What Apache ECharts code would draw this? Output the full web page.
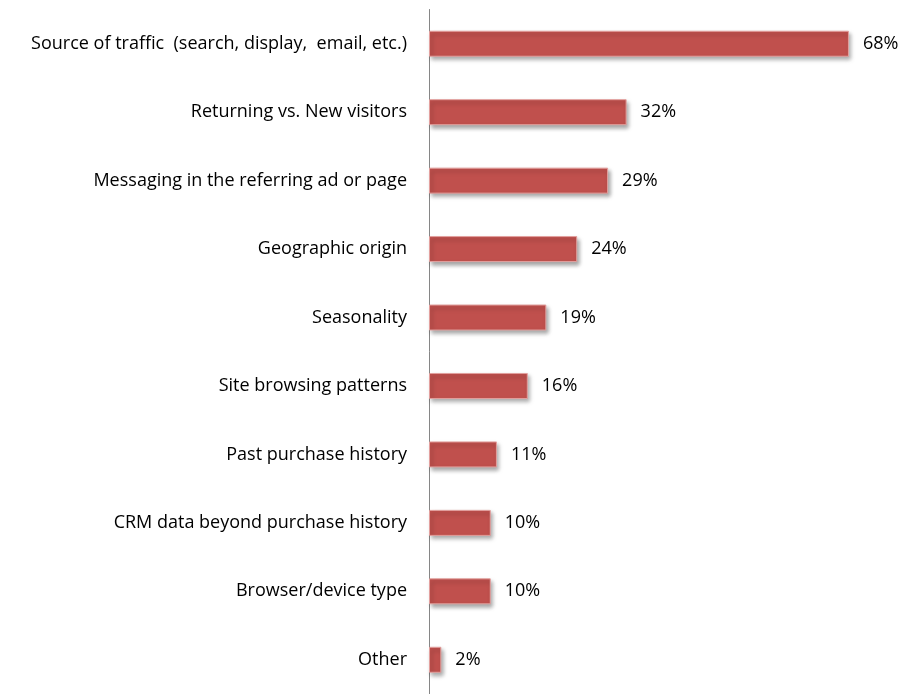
<!DOCTYPE html>
<html><head><meta charset="utf-8">
<script src="https://cdn.jsdelivr.net/npm/echarts@6/dist/echarts.min.js"></script>
<style>html,body{margin:0;padding:0;background:#fff}#c{width:902px;height:694px}</style>
</head><body><div id="c"></div>
<script>
const categories = [
  "Source of traffic  (search, display,  email, etc.)",
  "Returning vs. New visitors",
  "Messaging in the referring ad or page",
  "Geographic origin",
  "Seasonality",
  "Site browsing patterns",
  "Past purchase history",
  "CRM data beyond purchase history",
  "Browser/device type",
  "Other"
];
const values = [68, 32, 29, 24, 19, 16, 11, 10, 10, 2];

const chart = echarts.init(document.getElementById('c'));
chart.setOption({
  animation: false,
  grid: { left: 429, top: 9.5, width: 432.3, height: 689.4, containLabel: false },
  xAxis: { type: 'value', min: 0, max: 70, show: false },
  yAxis: {
    type: 'category', inverse: true, data: categories,
    axisLine: { show: true, lineStyle: { color: '#868686', width: 1 } },
    axisTick: { show: false },
    axisLabel: { margin: 22, color: '#000', fontFamily: 'Open Sans', fontSize: 18 }
  },
  series: [{
    type: 'bar', data: values, barWidth: 26,
    itemStyle: {
      color: '#C0504D', borderColor: '#E3A09E', borderWidth: 1,
      shadowColor: 'rgba(0,0,0,0.35)', shadowBlur: 4, shadowOffsetX: 2, shadowOffsetY: 3
    },
    label: {
      show: true, position: 'right', distance: 14, formatter: '{c}%',
      color: '#000', fontFamily: 'Open Sans', fontSize: 18
    }
  }]
});
</script></body></html>
